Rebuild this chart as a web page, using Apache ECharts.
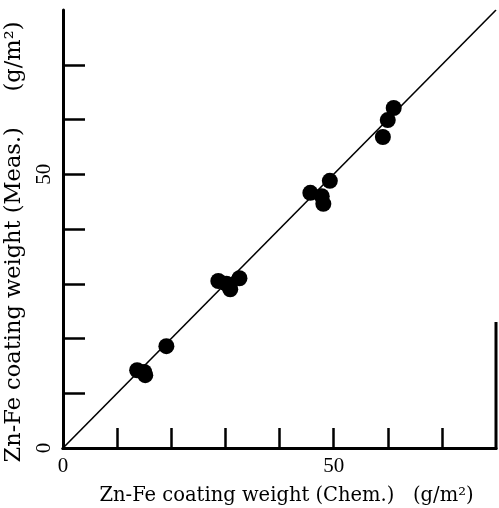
<!DOCTYPE html>
<html>
<head>
<meta charset="utf-8">
<script src="https://cdn.jsdelivr.net/npm/echarts@6/dist/echarts.min.js"></script>
<style>html,body{margin:0;padding:0;background:#fff}#c{width:499px;height:508px}</style>
</head>
<body>
<div id="c"></div>
<script>
// Measured data points: [Chem. (x), Meas. (y)] in g/m2
const chemValues = [13.7, 15.0, 15.2, 19.1, 28.7, 30.2, 30.9, 32.6, 45.7, 47.8, 48.1, 49.3, 59.1, 60.0, 61.1];
const measValues = [14.2, 13.9, 13.3, 18.6, 30.5, 30.0, 29.0, 31.0, 46.6, 46.0, 44.6, 48.8, 56.8, 59.9, 62.1];
// 1:1 reference line
const refLineX = [0, 80];
const refLineY = [0, 80];
// partially visible right frame edge
const rightEdgeX = [80, 80];
const rightEdgeY = [0, 23];
const tickValues = [10, 20, 30, 40, 50, 60, 70];
const labelValues = [0, 50];
const xName = 'Zn-Fe coating weight (Chem.)   (g/m²)';
const yName = 'Zn-Fe coating weight (Meas.)     (g/m²)';

const font = 'Liberation Serif';
const nameFont = 'DejaVu Serif';
const chart = echarts.init(document.getElementById('c'));
const pts = chemValues.map((v, i) => [v, measValues[i]]);
const ref = refLineX.map((v, i) => [v, refLineY[i]]);
const edge = rightEdgeX.map((v, i) => [v, rightEdgeY[i]]);

chart.setOption({
  animation: false,
  backgroundColor: '#fff',
  grid: { left: 63, right: 3, top: 10, bottom: 60, containLabel: false, outerBoundsMode: 'none' },
  xAxis: [{
    type: 'value', min: 0, max: 80, interval: 10,
    name: xName, nameLocation: 'middle', nameGap: 38,
    nameTextStyle: { fontFamily: nameFont, fontSize: 19.5, color: '#000', padding: [0, 0, 0, 14] },
    axisLine: { show: true, onZero: false, lineStyle: { color: '#000', width: 3 } },
    axisTick: { show: true, inside: true, length: 20, customValues: tickValues, lineStyle: { color: '#000', width: 2.5 } },
    axisLabel: { customValues: labelValues, fontFamily: font, fontSize: 21, color: '#000', margin: 8 },
    splitLine: { show: false }
  }, {
    type: 'value', position: 'top', min: 0, max: 80,
    axisLine: { show: true, lineStyle: { color: '#000', width: 3 } },
    axisTick: { show: false }, axisLabel: { show: false }, splitLine: { show: false }
  }],
  yAxis: {
    type: 'value', min: 0, max: 80, interval: 10,
    name: yName, nameLocation: 'middle', nameGap: 35, nameRotate: 90,
    nameTextStyle: { fontFamily: nameFont, fontSize: 22.5, color: '#000', padding: [0, 26, 0, 0] },
    axisLine: { show: true, onZero: false, lineStyle: { color: '#000', width: 3 } },
    axisTick: { show: true, inside: true, length: 22, customValues: tickValues, lineStyle: { color: '#000', width: 2.5 } },
    axisLabel: { customValues: labelValues, fontFamily: font, fontSize: 21, color: '#000', margin: 8, rotate: 90 },
    splitLine: { show: false }
  },
  series: [{
    type: 'line', data: ref, symbol: 'none',
    lineStyle: { color: '#000', width: 1.6 }
  }, {
    type: 'line', data: edge, symbol: 'none',
    lineStyle: { color: '#000', width: 3 }
  }, {
    type: 'scatter', data: pts, symbol: 'circle', symbolSize: 16,
    itemStyle: { color: '#000', opacity: 1 }
  }]
});
</script>
</body>
</html>
